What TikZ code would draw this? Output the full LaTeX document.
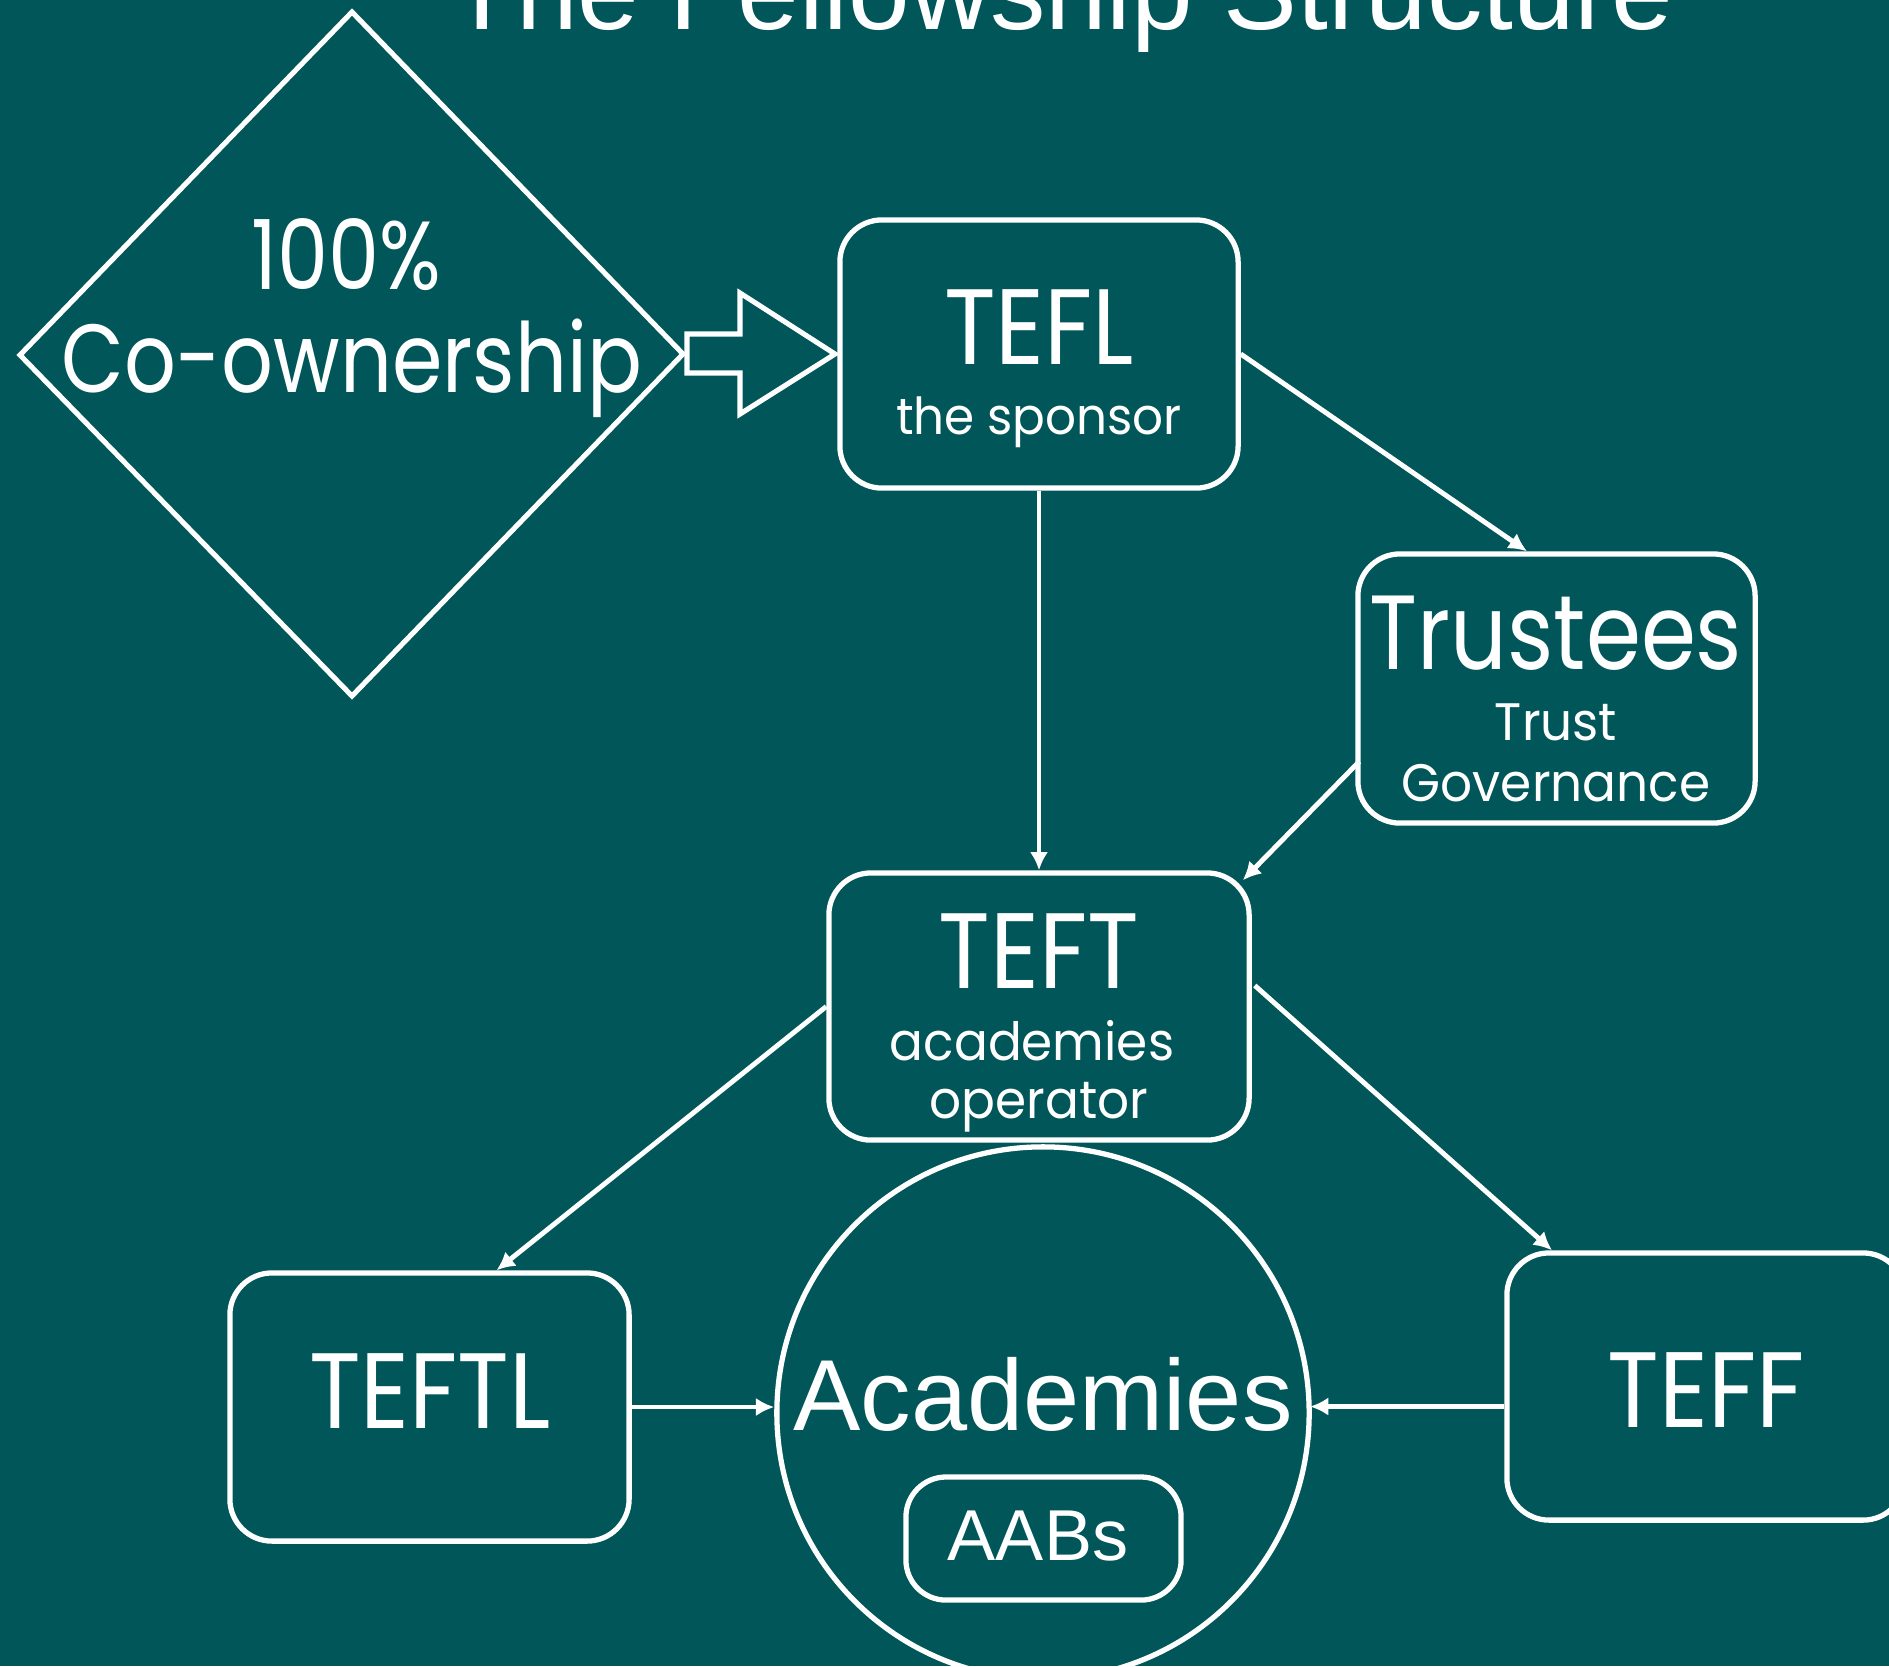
\documentclass[tikz,border=0pt]{standalone}
\usepackage{fontspec}
\setmainfont{Poppins}
\newfontfamily\arialf{Liberation Sans}
\newfontfamily\gothA{Poppins}[FakeStretch=0.89]
\newfontfamily\gothB{Poppins}[FakeStretch=0.84]
\newfontfamily\gothC{Poppins}[FakeStretch=0.95]
\usetikzlibrary{arrows.meta,calc}
\definecolor{bgteal}{RGB}{1,86,89}
\begin{document}
\begin{tikzpicture}[x=0.01cm,y=-0.01cm,
  box/.style={draw=white,line width=1.5pt,rounded corners=0.42cm,inner sep=0pt},
  conn/.style={draw=white,line width=1.4pt,-{Latex[length=5.2pt,width=5.2pt]}},
  txt/.style={text=white,anchor=base,inner sep=0pt},
  big/.style={font=\gothA\fontsize{30.5}{34}\selectfont},
  mid/.style={font=\gothB\fontsize{27.5}{32}\selectfont},
  small/.style={font=\gothC\fontsize{15}{18}\selectfont},
]
\fill[bgteal] (0,0) rectangle (1889,1666);
\useasboundingbox (0,0) rectangle (1889,1666);

% title
\node[txt,font=\arialf\fontsize{31.5}{34}\selectfont] (title) at (1061,29) {The Fellowship Structure};

% diamond
\coordinate (dl) at (20,355);
\coordinate (dt) at (352,12);
\coordinate (dr) at (683,354);
\coordinate (db) at (352,696);
\draw[white,line width=1.45pt,line join=miter] (dl) -- (dt) -- (dr) -- (db) -- cycle;
\node[txt,mid] (pct) at (346,289) {100\%};
\node[txt,mid] (coown) at (352,392) {Co-ownership};

% block arrow
\draw[white,line width=1.45pt,line join=miter] (687,334) -- (740,334) -- (740,293) -- (835,354) -- (740,414) -- (740,373) -- (687,373) -- cycle;

% boxes
\node[box,minimum width=3.98cm,minimum height=2.68cm] (tefl) at (1039,354) {};
\node[txt,big] (teflt) at (1039,364) {TEFL};
\node[txt,font=\gothC\fontsize{14.5}{17}\selectfont] (teflsub) at (1039,434) {the sponsor};

\node[box,minimum width=3.97cm,minimum height=2.69cm] (trus) at (1556.5,688.5) {};
\node[txt,font=\gothB\fontsize{30}{34}\selectfont] (trust) at (1556,669) {Trustees};
\node[txt,small] (trus1) at (1556,740) {Trust};
\node[txt,small] (trus2) at (1556,801) {Governance};

\node[box,minimum width=4.2cm,minimum height=2.67cm] (teft) at (1039,1006.5) {};
\node[txt,big] (teftt) at (1039,988) {TEFT};
\node[txt,small] (teft1) at (1032,1060) {academies};
\node[txt,small] (teft2) at (1039,1118) {operator};

\node[box,minimum width=3.99cm,minimum height=2.68cm] (teftl) at (429.5,1407) {};
\node[txt,big] (teftlt) at (430,1428) {TEFTL};

\node[box,minimum width=3.98cm,minimum height=2.67cm] (teff) at (1706,1386.5) {};
\node[txt,big] (tefft) at (1706,1427) {TEFF};

\node[draw=white,line width=1.5pt,circle,minimum size=5.32cm,inner sep=0pt] (acad) at (1043,1413) {};
\node[txt,font=\arialf\fontsize{28.7}{32}\selectfont] (acadt) at (1043,1430) {Academies};
\node[box,rounded corners=0.4cm,minimum width=2.75cm,minimum height=1.23cm] (aabs) at (1043.5,1538.5) {};
\node[txt,font=\arialf\fontsize{20.5}{24}\selectfont] (aabst) at (1038,1560) {AABs};

% connectors
\draw[conn] (tefl.south) -- (teft.north);
\draw[conn] (tefl.east) -- ($(trus.north)+(-29.5,0)$);
\draw[conn] ($(trus.west)+(4,73)$) -- ($(teft.north east)+(-9,10)$);
\draw[conn] (teft.west) -- ($(teftl.north)+(67,0)$);
\draw[conn] ($(teft.east)+(3,-21)$) -- ($(teff.north)+(-154,0)$);
\draw[conn] (teftl.east) -- (teftl.east -| acad.west);
\draw[conn] ($(teff.west)+(0,20)$) -- (1310,1406.5);
\end{tikzpicture}
\end{document}
